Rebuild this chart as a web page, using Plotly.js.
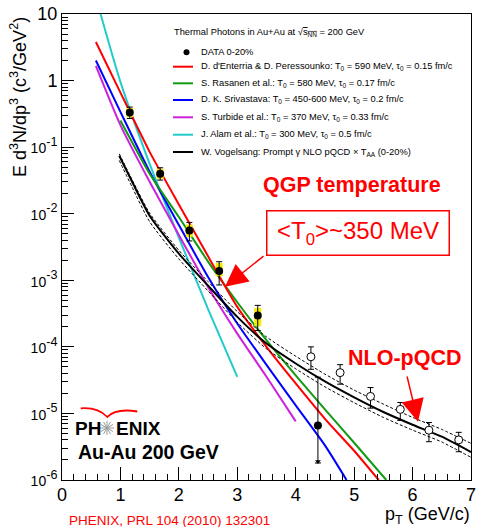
<!DOCTYPE html>
<html>
<head>
<meta charset="utf-8">
<script src="https://cdn.plot.ly/plotly-3.0.1.min.js"></script>
<style>html,body{margin:0;padding:0;background:#fff;}</style>
</head>
<body>
<div id="chart" style="width:478px;height:527px;"></div>
<script>
// ---------------- data ----------------
const dataPt   = [1.16, 1.68, 2.18, 2.69, 3.35, 4.38];
const dataY    = [0.33, 0.040, 0.0056, 0.00138, 2.95e-4, 6.6e-6];
const statHi   = [0.40, 0.049, 0.0074, 0.0019, 4.2e-4, 3.5e-5];
const statLo   = [0.27, 0.032, 0.0039, 8.5e-4, 1.76e-4, 1.8e-6];
const sysHi    = [0.387, 0.0473, 0.00686, 0.00182, 3.85e-4, 6.6e-6];
const sysLo    = [0.283, 0.0335, 0.00447, 0.00115, 2.04e-4, 6.6e-6];
const limitPt  = [4.38];
const limitY   = [1.9e-6];

const openPt   = [4.26, 4.76, 5.28, 5.79, 6.28, 6.79];
const openY    = [7.1e-5, 4.1e-5, 1.8e-5, 1.15e-5, 5.6e-6, 4.0e-6];
const openHi   = [1.0e-4, 5.4e-5, 2.45e-5, 1.46e-5, 7.3e-6, 5.2e-6];
const openLo   = [4.6e-5, 2.75e-5, 1.2e-5, 7.85e-6, 3.76e-6, 2.66e-6];

const redPt    = [0.58, 1.0, 1.5, 2.0, 2.5, 3.0, 3.5, 4.0, 4.5, 5.0, 5.42];
const redY     = [3.8, 0.66, 0.085, 0.0138, 0.00229, 3.98e-4, 1.0e-4, 2.82e-5, 8.3e-6, 2.75e-6, 1.0e-6];
const greenPt  = [1.0, 1.5, 2.0, 2.5, 3.0, 3.5, 4.0, 4.5, 5.0, 5.55];
const greenY   = [0.251, 0.0398, 0.00891, 0.00191, 4.68e-4, 1.26e-4, 3.72e-5, 1.15e-5, 3.63e-6, 1.0e-6];
const bluePt   = [0.58, 1.0, 1.5, 2.0, 2.5, 3.0, 3.5, 4.0, 4.5, 4.87];
const blueY    = [2.0, 0.339, 0.0427, 0.00676, 0.00112, 2.24e-4, 5.37e-5, 1.32e-5, 3.31e-6, 1.0e-6];
const magPt    = [0.58, 1.0, 1.5, 2.0, 2.5, 3.0, 3.5, 4.0];
const magY     = [1.66, 0.214, 0.0302, 0.00479, 7.94e-4, 1.58e-4, 3.55e-5, 7.6e-6];
const cyanPt   = [0.66, 1.0, 1.5, 2.0, 2.5, 3.0];
const cyanY    = [10, 0.955, 0.056, 0.00437, 3.7e-4, 3.55e-5];
const nloPt    = [0.98, 1.2, 1.5, 2.0, 2.5, 3.0, 3.5, 4.0, 4.5, 5.0, 5.5, 6.0, 6.5, 7.0];
const nloY     = [0.0741, 0.0302, 0.00933, 0.00251, 8.3e-4, 2.82e-4, 1.12e-4, 5.62e-5, 3.02e-5, 1.74e-5, 1.05e-5, 6.76e-6, 4.47e-6, 2.63e-6];
const nloUpY   = [0.0794, 0.0324, 0.0102, 0.00282, 9.55e-4, 3.39e-4, 1.41e-4, 7.24e-5, 3.89e-5, 2.24e-5, 1.38e-5, 8.71e-6, 5.75e-6, 3.55e-6];
const nloLoY   = [0.0631, 0.0251, 0.00759, 0.00209, 6.92e-4, 2.34e-4, 9.33e-5, 4.68e-5, 2.51e-5, 1.45e-5, 8.71e-6, 5.62e-6, 3.72e-6, 2.19e-6];

const yTickVals  = [1e-6, 1e-5, 1e-4, 1e-3, 1e-2, 1e-1, 1, 10];
const yTickBase  = ['10', '10', '10', '10', '10', '10', '1', '10'];
const yTickExp   = ['-6', '-5', '-4', '-3', '-2', '-1', '', ''];

const legendTitle = "Thermal Photons in Au+Au at √<span style=\"text-decoration:overline\">s<sub>NN</sub></span> = 200 GeV";
const legendLabels = [
  "DATA 0-20%",
  "D. d'Enterria &amp; D. Peressounko: T<sub>0</sub> = 590 MeV, τ<sub>0</sub> = 0.15 fm/c",
  "S. Rasanen et al.: T<sub>0</sub> = 580 MeV, τ<sub>0</sub> = 0.17 fm/c",
  "D. K. Srivastava: T<sub>0</sub> = 450-600 MeV, τ<sub>0</sub> = 0.2 fm/c",
  "S. Turbide et al.: T<sub>0</sub> = 370 MeV, τ<sub>0</sub> = 0.33 fm/c",
  "J. Alam et al.: T<sub>0</sub> = 300 MeV, τ<sub>0</sub> = 0.5 fm/c",
  "W. Vogelsang: Prompt γ NLO pQCD × T<sub>AA</sub> (0-20%)"
];
const colors = {red:'#ff0000', green:'#129a12', blue:'#0000ff', mag:'#cc22dd', cyan:'#22cccc', black:'#000000'};

// ---------------- geometry helpers (pixel -> paper) ----------------
const W = 478, H = 527, L = 62, R = 7, T = 14, B = 47;
const PW = W - L - R, PH = H - T - B;
const X = px => (px - L) / PW;
const Y = py => (H - B - py) / PH;
const FONT = 'Liberation Sans, Arial, sans-serif';

const sub = (a, b) => a.map((v, i) => v - b[i]);
const yTickText = yTickBase.map((b, i) => yTickExp[i] === '' ? b :
  '<span style="font-size:14px">' + b + '</span><sup>' + yTickExp[i] + '</sup>');

function curve(x, y, color, width, dash) {
  return {x: x, y: y, type: 'scatter', mode: 'lines', showlegend: false, hoverinfo: 'skip',
          line: {color: color, width: width, dash: dash || 'solid', shape: 'spline', smoothing: 0.6}};
}

const traces = [
  curve(cyanPt, cyanY, colors.cyan, 2),
  curve(magPt, magY, colors.mag, 2),
  curve(bluePt, blueY, colors.blue, 2),
  curve(greenPt, greenY, colors.green, 2),
  curve(redPt, redY, colors.red, 2),
  curve(nloPt, nloUpY, '#000', 1, '3px,2px'),
  curve(nloPt, nloLoY, '#000', 1, '3px,2px'),
  curve(nloPt, nloY, '#000', 2),
  // systematic boxes
  {x: dataPt, y: dataY, type: 'scatter', mode: 'markers', showlegend: false, hoverinfo: 'skip',
   marker: {size: 1, opacity: 0},
   error_y: {type: 'data', symmetric: false, array: sub(sysHi, dataY), arrayminus: sub(dataY, sysLo),
             color: '#f4ec00', thickness: 7, width: 0}},
  // filled data with stat errors
  {x: dataPt, y: dataY, type: 'scatter', mode: 'markers', showlegend: false, hoverinfo: 'skip',
   marker: {size: 8, color: '#000', symbol: 'circle'},
   error_y: {type: 'data', symmetric: false, array: sub(statHi, dataY), arrayminus: sub(dataY, statLo),
             color: '#000', thickness: 1, width: 3}},
  {x: limitPt, y: limitY, type: 'scatter', mode: 'markers', showlegend: false, hoverinfo: 'skip',
   marker: {size: 5, color: '#000', symbol: 'triangle-down'}},
  // open points
  {x: openPt, y: openY, type: 'scatter', mode: 'markers', showlegend: false, hoverinfo: 'skip',
   marker: {size: 8, color: '#fff', symbol: 'circle', line: {color: '#000', width: 1}},
   error_y: {type: 'data', symmetric: false, array: sub(openHi, openY), arrayminus: sub(openY, openLo),
             color: '#000', thickness: 1, width: 3}}
];

// ---------------- legend (manual, ROOT-like) ----------------
const legY = [52.3, 66.7, 83.3, 100, 117.3, 134.7, 152];
const legColors = [null, colors.red, colors.green, colors.blue, colors.mag, colors.cyan, colors.black];
const shapes = [];
const annotations = [];
annotations.push({xref: 'paper', yref: 'paper', x: X(172), y: Y(32), xanchor: 'left', yanchor: 'middle',
  text: legendTitle, showarrow: false, font: {family: FONT, size: 9.3, color: '#000'}});
legendLabels.forEach((lab, i) => {
  annotations.push({xref: 'paper', yref: 'paper', x: X(199), y: Y(legY[i]), xanchor: 'left', yanchor: 'middle',
    text: lab, showarrow: false, font: {family: FONT, size: 9.3, color: '#000'}});
  if (i === 0) {
    shapes.push({type: 'circle', xref: 'paper', yref: 'paper', x0: X(183.5), x1: X(189.5), y0: Y(55.3), y1: Y(49.3),
      fillcolor: '#000', line: {width: 0}});
  } else {
    shapes.push({type: 'line', xref: 'paper', yref: 'paper', x0: X(173), x1: X(193), y0: Y(legY[i]), y1: Y(legY[i]),
      line: {color: legColors[i], width: 2}});
  }
});

// ---------------- labels ----------------
annotations.push(
  {xref: 'paper', yref: 'paper', x: X(18), y: Y(97), xanchor: 'center', yanchor: 'middle', textangle: -90,
   text: 'E d<sup>3</sup>N/dp<sup>3</sup> (c<sup>3</sup>/GeV<sup>2</sup>)', showarrow: false,
   font: {family: FONT, size: 18, color: '#000'}},
  {xref: 'paper', yref: 'paper', x: X(472), y: Y(515.5), xanchor: 'right', yanchor: 'middle',
   text: 'p<sub>T</sub> (GeV/c)', showarrow: false, font: {family: FONT, size: 18, color: '#000'}},
  {xref: 'paper', yref: 'paper', x: X(67), y: Y(520), xanchor: 'left', yanchor: 'middle',
   text: 'PHENIX, PRL 104 (2010) 132301', showarrow: false, font: {family: FONT, size: 13.5, color: '#ff0000'}},
  {xref: 'paper', yref: 'paper', x: X(261), y: Y(185), xanchor: 'left', yanchor: 'middle',
   text: '<b>QGP temperature</b>', showarrow: false, font: {family: FONT, size: 21.5, color: '#ff0000'}},
  {xref: 'paper', yref: 'paper', x: X(357.5), y: Y(232.5), xanchor: 'center', yanchor: 'middle',
   text: '&lt;T<sub>0</sub>&gt;~350 MeV', showarrow: false, width: 179, height: 41, borderpad: 1,
   bordercolor: '#ff0000', borderwidth: 1.5, font: {family: FONT, size: 24, color: '#ff0000'}},
  {xref: 'paper', yref: 'paper', x: X(225), y: Y(286.7), text: '', showarrow: true, ax: 40, ay: -31.7,
   arrowcolor: '#ff0000', arrowwidth: 1.5, arrowhead: 2, arrowsize: 3, standoff: 0},
  {xref: 'paper', yref: 'paper', x: X(346), y: Y(358), xanchor: 'left', yanchor: 'middle',
   text: '<b>NLO-pQCD</b>', showarrow: false, font: {family: FONT, size: 21.5, color: '#ff0000'}},
  {xref: 'paper', yref: 'paper', x: X(418), y: Y(421.7), text: '', showarrow: true, ax: -11.3, ay: -46.7,
   arrowcolor: '#ff0000', arrowwidth: 1.5, arrowhead: 2, arrowsize: 3, standoff: 0},
  {xref: 'paper', yref: 'paper', x: X(73), y: Y(428), xanchor: 'left', yanchor: 'middle',
   text: '<b>PH</b>', showarrow: false, font: {family: FONT, size: 19, color: '#000'}},
  {xref: 'paper', yref: 'paper', x: X(114), y: Y(428), xanchor: 'left', yanchor: 'middle',
   text: '<b>ENIX</b>', showarrow: false, font: {family: FONT, size: 19, color: '#000'}},
  {xref: 'paper', yref: 'paper', x: X(76), y: Y(452), xanchor: 'left', yanchor: 'middle',
   text: '<b>Au-Au 200 GeV</b>', showarrow: false, font: {family: FONT, size: 19.5, color: '#000'}}
);

// PHENIX starburst and red wing
const cx = 107, cy = 428, rr = 7;
for (let k = 0; k < 6; k++) {
  const a = k * Math.PI / 6;
  shapes.push({type: 'line', xref: 'paper', yref: 'paper',
    x0: X(cx - rr * Math.cos(a)), x1: X(cx + rr * Math.cos(a)),
    y0: Y(cy - rr * Math.sin(a)), y1: Y(cy + rr * Math.sin(a)),
    line: {color: '#999', width: 1}});
}
const P = (px, py) => X(px).toFixed(4) + ',' + Y(py).toFixed(4);
shapes.push({type: 'path', xref: 'paper', yref: 'paper',
  path: 'M' + P(80.7, 408.3) + ' Q' + P(98, 407) + ' ' + P(107.3, 417) + ' Q' + P(116, 408) + ' ' + P(137.3, 411.5),
  line: {color: '#ff0000', width: 1.8}});

const layout = {
  width: W, height: H,
  margin: {l: L, r: R, t: T, b: B},
  paper_bgcolor: '#fff', plot_bgcolor: '#fff',
  showlegend: false,
  font: {family: FONT, color: '#000'},
  xaxis: {range: [0, 7], dtick: 1, tick0: 0, ticks: 'inside', ticklen: 13, tickwidth: 1, tickcolor: '#000',
          showline: true, mirror: true, linecolor: '#000', linewidth: 1, showgrid: false, zeroline: false,
          ticklabelstandoff: -2,
          tickfont: {family: FONT, size: 18, color: '#000'},
          minor: {dtick: 0.2, ticks: 'inside', ticklen: 6, tickcolor: '#000', showgrid: false}},
  yaxis: {type: 'log', range: [-6, 1], tickmode: 'array', tickvals: yTickVals, ticktext: yTickText,
          ticks: 'inside', ticklen: 12,
          tickwidth: 1, tickcolor: '#000', showline: true, mirror: true, linecolor: '#000', linewidth: 1,
          showgrid: false, zeroline: false, tickfont: {family: FONT, size: 18, color: '#000'},
          minor: {dtick: 'D1', ticks: 'inside', ticklen: 6, tickcolor: '#000', showgrid: false}},
  shapes: shapes,
  annotations: annotations
};

Plotly.newPlot('chart', traces, layout, {staticPlot: true});
</script>
</body>
</html>
